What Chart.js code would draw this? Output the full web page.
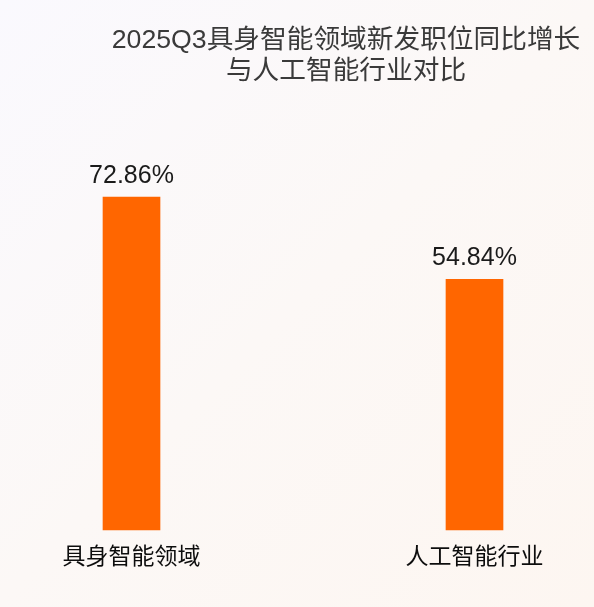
<!DOCTYPE html>
<html>
<head>
<meta charset="utf-8">
<script src="https://cdn.jsdelivr.net/npm/chart.js@4"></script>
<style>
  html, body { margin: 0; padding: 0; }
  body {
    width: 594px; height: 607px; overflow: hidden;
    background: linear-gradient(135deg, #faf9fe 0%, #fcf8f6 50%, #fdf6f1 100%);
  }
  #wrap { position: relative; width: 594px; height: 607px; }
</style>
</head>
<body>
<div id="wrap"><canvas id="chart" width="594" height="607"></canvas></div>
<script>
const titleLines = ["2025Q3具身智能领域新发职位同比增长", "与人工智能行业对比"];
const categories = ["具身智能领域", "人工智能行业"];
const growthValues = [72.86, 54.84];

const FONT = "'Liberation Sans', 'Noto Sans CJK SC', sans-serif";

// title + value labels drawn by hand (no datalabels plugin offline)
const labelPlugin = {
  id: "labelPlugin",
  afterDatasetsDraw(chart) {
    const ctx = chart.ctx;
    ctx.save();
    ctx.fillStyle = "#3a3a3a";
    ctx.font = "26.7px " + FONT;
    ctx.textAlign = "center";
    ctx.textBaseline = "middle";
    titleLines.forEach((line, i) => ctx.fillText(line, 346, 41 + i * 31));

    const meta = chart.getDatasetMeta(0);
    ctx.fillStyle = "#1a1a1a";
    ctx.font = "25px " + FONT;
    ctx.textBaseline = "alphabetic";
    meta.data.forEach((bar, i) => {
      ctx.fillText(growthValues[i].toFixed(2) + "%", bar.x, bar.y - 14);
    });
    ctx.restore();
  }
};

new Chart(document.getElementById("chart"), {
  type: "bar",
  data: {
    labels: categories,
    datasets: [
      {
        data: growthValues,
        backgroundColor: "#ff6600",
        barThickness: 57,
        clip: false,
      },
    ],
  },
  options: {
    responsive: false,
    animation: false,
    layout: {
      padding: { left: 131.5, right: 119.5, top: 73, bottom: 21.4 },
    },
    scales: {
      x: {
        offset: false,
        grid: { display: false, drawTicks: false },
        border: { display: false },
        ticks: {
          color: "#0d0d0d",
          font: { size: 23, family: FONT },
          padding: 14,
          maxRotation: 0,
          autoSkip: false,
        },
      },
      y: {
        display: false,
        min: 0,
        max: 100,
      },
    },
    plugins: {
      legend: { display: false },
      tooltip: { enabled: false },
    },
  },
  plugins: [labelPlugin],
});
</script>
</body>
</html>
